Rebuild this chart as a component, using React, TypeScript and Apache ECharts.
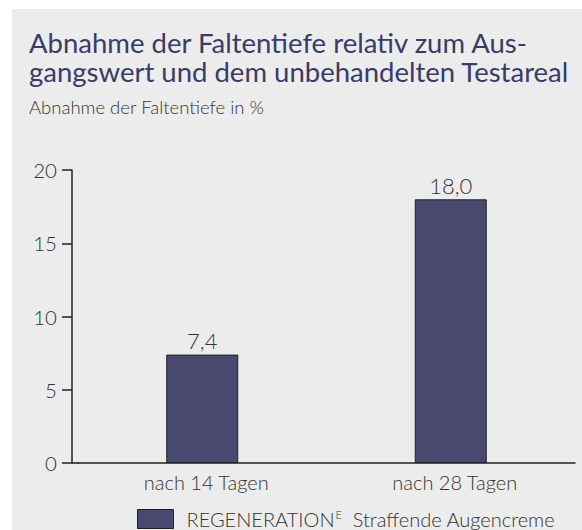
import React, { useEffect, useRef } from "react";
import * as echarts from "echarts";

const categories = ["nach 14 Tagen", "nach 28 Tagen"];
const values = [7.4, 18.0];
const seriesName = "REGENERATION Straffende Augencreme";
const titleLines = ["Abnahme der Faltentiefe relativ zum Aus-", "gangswert und dem unbehandelten Testareal"];
const subtitle = "Abnahme der Faltentiefe in %";
const yTicks = { min: 0, max: 20, interval: 5 };

const FONT = "Lato";

export default function App() {
  const ref = useRef<HTMLDivElement>(null);
  useEffect(() => {
    if (!ref.current) return;
    const chart = echarts.init(ref.current, null, { renderer: "svg" });
    const titleStyle = { fontFamily: FONT, fontSize: 27.5, fontWeight: "normal", color: "#393b69", lineHeight: 27.5 };
    chart.setOption({
      animation: false,
      backgroundColor: "#ffffff",
      textStyle: { fontFamily: FONT },
      graphic: [
        { type: "rect", z: -10, shape: { x: 12, y: 9, width: 570, height: 521 }, style: { fill: "#ececec" }, silent: true },
        { type: "line", z: 10, shape: { x1: 72, y1: 463, x2: 79, y2: 463 }, style: { stroke: "#222", lineWidth: 1.5 }, silent: true },
      ],
      title: [
        { text: titleLines[0], left: 29, top: 29, padding: 0, textStyle: titleStyle },
        { text: titleLines[1], left: 29, top: 57.5, padding: 0, textStyle: titleStyle },
        {
          text: subtitle,
          left: 29,
          top: 98,
          padding: 0,
          textStyle: { fontFamily: FONT, fontSize: 18.5, fontWeight: 300, color: "#333", lineHeight: 18.5 },
        },
      ],
      legend: {
        left: 137,
        top: 509,
        padding: 0,
        itemWidth: 36,
        itemHeight: 19,
        itemGap: 13,
        data: [{ name: seriesName, icon: "rect", itemStyle: { color: "#49486f", borderColor: "#222", borderWidth: 1 } }],
        formatter: () => "{a|REGENERATION}{s|E}{a|  Straffende Augencreme}",
        textStyle: {
          padding: [0, 0, 0, 8],
          rich: {
            a: { fontFamily: FONT, fontSize: 20, fontWeight: 300, color: "#333", verticalAlign: "middle", lineHeight: 20 },
            s: { fontFamily: FONT, fontSize: 11, fontWeight: 300, color: "#333", verticalAlign: "top", lineHeight: 11, padding: [0, 0, 0, 1] },
          },
        },
      },
      grid: { left: 78, right: 7, top: 170, bottom: 67, containLabel: false },
      xAxis: {
        type: "category",
        data: categories,
        axisLine: { lineStyle: { color: "#222", width: 1.5 } },
        axisTick: { show: false },
        axisLabel: { fontFamily: FONT, fontSize: 20, fontWeight: 300, color: "#333", margin: 9, padding: [0, 0, 0, 8] },
      },
      yAxis: {
        type: "value",
        min: yTicks.min,
        max: yTicks.max,
        interval: yTicks.interval,
        offset: 6,
        splitLine: { show: false },
        axisLine: { show: true, lineStyle: { color: "#222", width: 1.5 } },
        axisTick: { show: true, length: 10, lineStyle: { color: "#222", width: 1.5 } },
        axisLabel: { fontFamily: FONT, fontSize: 20.5, fontWeight: 300, color: "#333", margin: 15 },
      },
      series: [
        {
          name: seriesName,
          type: "bar",
          data: values,
          barWidth: 72,
          itemStyle: { color: "#49486f", borderColor: "#222", borderWidth: 1 },
          label: {
            show: true,
            position: "top",
            distance: 3,
            fontFamily: FONT,
            fontSize: 22,
            fontWeight: 300,
            color: "#333",
            formatter: (p: any) => p.value.toFixed(1).replace(".", ","),
          },
        },
      ],
    });
    return () => chart.dispose();
  }, []);
  return <div ref={ref} style={{ position: "absolute", left: 0, top: 0, width: 582, height: 530 }} />;
}
